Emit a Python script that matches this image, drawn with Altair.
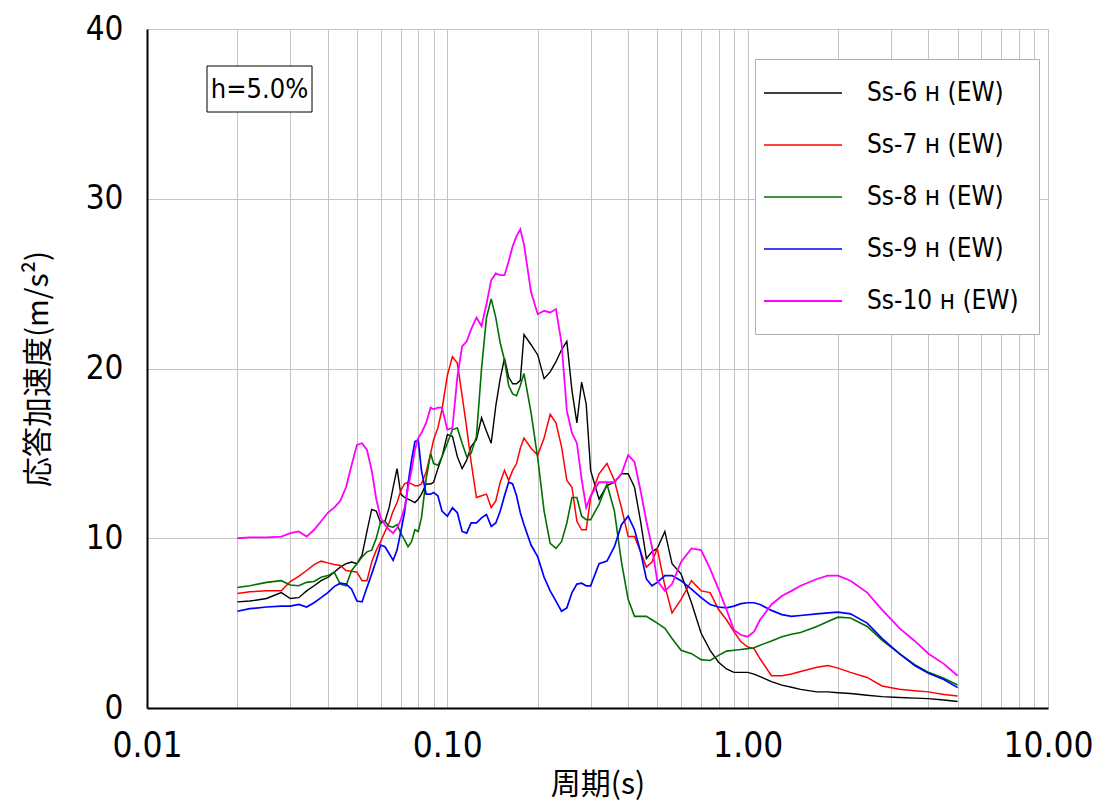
import altair as alt
import pandas as pd

PERIOD = [0.02, 0.022, 0.025, 0.028, 0.03, 0.032, 0.034, 0.036, 0.038, 0.04,
          0.042, 0.044, 0.046, 0.048, 0.05, 0.052, 0.054, 0.056, 0.058, 0.06,
          0.062, 0.064, 0.066, 0.068, 0.07, 0.072, 0.074, 0.076, 0.078, 0.08,
          0.082, 0.085, 0.088, 0.09, 0.093, 0.096, 0.1, 0.104, 0.108, 0.112,
          0.116, 0.12, 0.125, 0.13, 0.135, 0.14, 0.145, 0.15, 0.155, 0.16,
          0.165, 0.17, 0.175, 0.18, 0.19, 0.2, 0.21, 0.22, 0.23, 0.24,
          0.25, 0.26, 0.27, 0.28, 0.29, 0.3, 0.32, 0.34, 0.36, 0.38,
          0.4, 0.42, 0.44, 0.46, 0.48, 0.5, 0.53, 0.56, 0.6, 0.65,
          0.7, 0.75, 0.8, 0.85, 0.9, 0.95, 1.0, 1.05, 1.1, 1.2,
          1.3, 1.4, 1.5, 1.7, 1.85, 2.0, 2.2, 2.5, 2.8, 3.2,
          3.6, 4.0, 4.5, 5.0]

SS6 = [6.25, 6.3, 6.45, 6.8, 6.45, 6.5, 6.9, 7.2, 7.5, 7.7,
       8.0, 8.3, 8.5, 8.6, 8.5, 9.0, 10.4, 11.7, 11.6, 10.9,
       11.0, 11.8, 13.0, 14.1, 12.6, 12.4, 12.3, 12.2, 12.1, 12.3,
       12.6, 13.2, 13.2, 13.3, 14.1, 14.8, 16.1, 16.0, 14.8, 14.1,
       14.6, 15.4, 15.8, 17.1, 16.3, 15.6, 17.8, 19.4, 20.6, 19.5,
       19.1, 19.1, 19.3, 22.0, 21.4, 20.8, 19.4, 19.8, 20.4, 21.1,
       21.6, 18.7, 16.8, 19.2, 17.9, 14.0, 12.3, 13.1, 13.3, 13.8,
       13.8, 13.0, 11.0, 8.8, 9.2, 9.4, 10.4, 8.5, 7.9, 6.2,
       4.4, 3.4, 2.7, 2.3, 2.1, 2.1, 2.1, 2.0, 1.85, 1.55,
       1.35, 1.22, 1.1, 0.95, 0.95, 0.9, 0.85, 0.75, 0.67, 0.62,
       0.58, 0.55, 0.47, 0.38]

SS7 = [6.75, 6.85, 6.9, 6.9, 7.45, 7.75, 8.1, 8.45, 8.65, 8.55,
       8.45, 8.4, 8.1, 8.05, 8.0, 7.5, 7.5, 8.6, 9.3, 9.8,
       10.4, 10.9, 11.6, 12.1, 12.8, 13.2, 13.3, 13.2, 13.1, 13.1,
       13.2, 13.9, 15.0, 15.8, 16.5, 17.6, 19.6, 20.7, 20.3, 18.4,
       16.5, 14.5, 12.4, 12.5, 12.6, 11.8, 12.2, 13.3, 14.0, 13.4,
       14.0, 14.4, 15.3, 15.9, 15.3, 14.9, 15.9, 17.3, 16.8, 15.4,
       13.4, 13.0, 11.0, 10.5, 10.5, 12.4, 13.8, 14.4, 13.4, 11.8,
       10.1, 10.1, 9.2, 8.3, 8.6, 9.4, 7.2, 5.6, 6.4, 7.5,
       6.9, 6.8, 5.8, 5.2, 4.5, 3.9, 3.6, 3.5, 2.9, 1.9,
       1.9, 2.0, 2.15, 2.4, 2.5, 2.35, 2.1, 1.8, 1.3, 1.1,
       1.02, 0.95, 0.8, 0.7]

SS8 = [7.1, 7.2, 7.4, 7.5, 7.25, 7.2, 7.4, 7.45, 7.7, 7.8,
       8.0, 7.3, 7.2, 8.1, 8.5, 8.9, 9.2, 9.3, 10.0, 11.0,
       11.0, 10.7, 10.65, 10.8, 10.3, 9.9, 9.5, 9.8, 10.5, 10.4,
       11.2, 13.5, 15.0, 14.4, 14.3, 14.8, 15.6, 16.4, 16.5, 15.6,
       14.8, 15.0, 16.0, 20.0, 23.0, 24.1, 23.0, 21.5, 20.5, 19.0,
       18.5, 18.4, 19.0, 19.7, 17.4, 14.7, 11.6, 9.7, 9.4, 9.8,
       10.9, 12.4, 12.4, 11.3, 11.1, 11.1, 12.0, 13.2, 11.6, 8.6,
       6.4, 5.4, 5.4, 5.4, 5.2, 5.0, 4.7, 4.1, 3.4, 3.2,
       2.85, 2.8, 3.1, 3.35, 3.4, 3.45, 3.5, 3.55, 3.7, 3.95,
       4.2, 4.35, 4.45, 4.8, 5.1, 5.35, 5.3, 4.8, 4.0, 3.2,
       2.55, 2.1, 1.75, 1.35]

SS9 = [5.7, 5.85, 5.95, 6.0, 6.0, 6.1, 5.95, 6.2, 6.5, 6.8,
       7.15, 7.35, 7.3, 7.0, 6.3, 6.25, 7.1, 7.9, 8.7, 9.6,
       9.5, 9.1, 8.7, 9.3, 10.4, 11.5, 13.2, 14.6, 15.7, 15.8,
       14.0, 12.6, 12.6, 12.7, 12.5, 11.6, 11.3, 11.8, 11.5, 10.4,
       10.3, 10.9, 10.9, 11.2, 11.4, 10.7, 10.9, 11.6, 12.5, 13.3,
       13.2, 12.5, 11.5, 10.8, 9.6, 8.9, 7.7, 6.9, 6.3, 5.7,
       5.9, 6.8, 7.3, 7.35, 7.2, 7.2, 8.5, 8.65, 9.5, 10.8,
       11.3, 10.5, 9.2, 7.6, 7.2, 7.4, 7.8, 7.8, 7.5, 7.0,
       6.5, 6.1, 5.95, 5.9, 6.0, 6.15, 6.2, 6.2, 6.1, 5.75,
       5.5, 5.4, 5.45, 5.55, 5.6, 5.65, 5.55, 5.0, 4.1, 3.2,
       2.5, 2.05, 1.68, 1.2]

SS10 = [10.0, 10.05, 10.05, 10.1, 10.3, 10.4, 10.1, 10.5, 11.0, 11.5,
        11.8, 12.2, 13.0, 14.3, 15.5, 15.6, 15.2, 14.0, 12.3, 11.2,
        10.8, 10.5, 10.3, 10.6, 11.1, 11.8, 13.0, 14.0, 15.2, 15.9,
        16.2, 16.8, 17.7, 17.6, 17.7, 17.7, 16.4, 16.5, 19.5, 21.3,
        21.6, 22.3, 23.0, 22.5, 23.8, 25.2, 25.6, 25.5, 25.5, 26.3,
        27.2, 27.8, 28.2, 27.3, 24.5, 23.2, 23.4, 23.3, 23.5, 21.5,
        17.5, 16.2, 15.6, 13.5, 11.8, 12.5, 13.3, 13.3, 13.3, 13.8,
        14.9, 14.5, 12.8, 11.0, 9.5, 7.5, 6.9, 7.3, 8.6, 9.4,
        9.3, 8.2, 7.0, 5.8, 4.6, 4.3, 4.2, 4.5, 5.2, 6.1,
        6.6, 6.9, 7.2, 7.6, 7.8, 7.8, 7.5, 6.8, 5.8, 4.7,
        3.95, 3.2, 2.6, 1.9]

SERIES = ["Ss-6 ʜ (EW)", "Ss-7 ʜ (EW)", "Ss-8 ʜ (EW)", "Ss-9 ʜ (EW)", "Ss-10 ʜ (EW)"]
COLORS = ["#000000", "#ff0000", "#007000", "#0000ff", "#ff00ff"]
WIDTHS = [1.4, 1.8, 1.8, 1.5, 2.0]

GRID_T = [0.01, 0.02, 0.03, 0.04, 0.05, 0.06, 0.07, 0.08, 0.09,
          0.1, 0.2, 0.3, 0.4, 0.5, 0.6, 0.7, 0.8, 0.9,
          1, 2, 3, 4, 5, 6, 7, 8, 9, 10]
Y_TICKS = [0, 10, 20, 30, 40]

rows = []
for name, vals in zip(SERIES, [SS6, SS7, SS8, SS9, SS10]):
    assert len(vals) == len(PERIOD), (name, len(vals), len(PERIOD))
    for t, v in zip(PERIOD, vals):
        rows.append({"T": t, "A": v, "series": name})
df = pd.DataFrame(rows)

NUM_FONT = "Liberation Sans Narrow, DejaVu Sans Condensed, Liberation Sans, sans-serif"
JP_FONT = "Noto Sans CJK JP"

lines = alt.Chart(df).mark_line(clip=True).encode(
    x=alt.X("T:Q",
            scale=alt.Scale(type="log", domain=[0.01, 10], nice=False),
            axis=alt.Axis(values=GRID_T,
                          labelExpr="(datum.value==0.01||datum.value==0.1||datum.value==1||datum.value==10) ? format(datum.value,'.2f') : ''",
                          title="周期(s)", ticks=False, grid=True,
                          gridColor="#c4c4c4", gridWidth=1,
                          labelFont=NUM_FONT, labelFontSize=35, labelPadding=20,
                          labelColor="black", labelOverlap=False, labelFlush=False,
                          titleFont=JP_FONT, titleFontSize=30, titleFontWeight="normal",
                          titleColor="black", titlePadding=6,
                          domainColor="black", domainWidth=2)),
    y=alt.Y("A:Q",
            scale=alt.Scale(domain=[0, 40], nice=False),
            axis=alt.Axis(values=Y_TICKS, title="応答加速度(m/s²)", ticks=False, grid=True,
                          gridColor="#c4c4c4", gridWidth=1,
                          labelFont=NUM_FONT, labelFontSize=33, labelPadding=24,
                          labelColor="black",
                          titleFont=JP_FONT, titleFontSize=30, titleFontWeight="normal",
                          titleColor="black", titlePadding=32,
                          domainColor="black", domainWidth=2)),
    color=alt.Color("series:N",
                    scale=alt.Scale(domain=SERIES, range=COLORS),
                    legend=alt.Legend(orient="none", legendX=608, legendY=30, title=None,
                                      symbolType="M-3,0H3", symbolSize=676,
                                      symbolStrokeWidth=2,
                                      labelFont=NUM_FONT, labelFontSize=26, labelColor="black",
                                      rowPadding=25, padding=20, symbolOffset=14,
                                      labelOffset=50, strokeColor="#b0b0b0",
                                      fillColor="white", labelLimit=300)),
    strokeWidth=alt.StrokeWidth("series:N",
                                scale=alt.Scale(domain=SERIES, range=WIDTHS),
                                legend=None),
    order=alt.Order("T:Q"),
)

ann = pd.DataFrame({"label": ["h=5.0%"]})
box = alt.Chart(ann).mark_rect(fill="white", stroke="black", strokeWidth=1).encode(
    x=alt.value(60), x2=alt.value(165), y=alt.value(37), y2=alt.value(83))
txt = alt.Chart(ann).mark_text(font=NUM_FONT, fontSize=27, color="black",
                               align="center", baseline="middle").encode(
    x=alt.value(112.5), y=alt.value(61), text="label:N")

chart = alt.layer(lines, box, txt).properties(
    width=901, height=679,
    autosize=alt.AutoSizeParams(type="none"),
    padding={"left": 139, "top": 21, "right": 48, "bottom": 100},
).configure_view(stroke="black", strokeWidth=2).configure(background="white")

chart.save("out.html", embed_options={"renderer": "svg", "actions": False})
